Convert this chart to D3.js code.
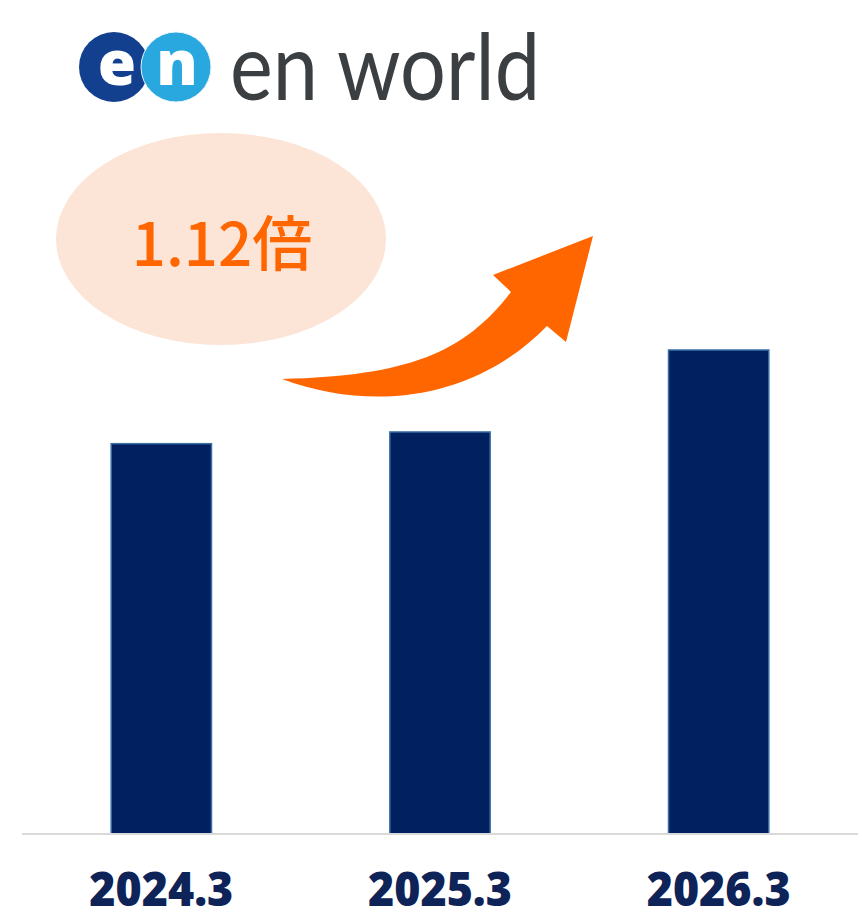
<!DOCTYPE html>
<html>
<head>
  <meta charset="utf-8">
  <title>en world 1.12倍</title>
  <script src="https://d3js.org/d3.v7.min.js"></script>
  <style>
    html, body { margin: 0; overflow: hidden; background: #fff; }
  </style>
</head>
<body>
<svg width="862" height="919"></svg>

<script>
// データ（目盛りは無いので高さ比から読み取り）
const categories = ["2024.3", "2025.3", "2026.3"];
const values = [100, 103, 124];
const ratioLabel = "1.12倍";

const width = 862, height = 919;
const svg = d3.select("svg");

const x = d3.scaleBand()
  .domain(categories)
  .range([22, 858])
  .paddingInner(0.64)
  .paddingOuter(0.32);

const y = d3.scaleLinear()
  .domain([0, d3.max(values)])
  .range([834, 350]);

// ロゴ
const logo = svg.append("g");
logo.append("circle").attr("cx", 114).attr("cy", 67).attr("r", 35).attr("fill", "#123f8e");
logo.append("circle").attr("cx", 176).attr("cy", 67).attr("r", 35)
  .attr("fill", "#29a8e0").attr("stroke", "#e8f4fb").attr("stroke-width", 1);
logo.selectAll("text.mark")
  .data([{ t: "e", x: 117 }, { t: "n", x: 177 }])
  .enter().append("text")
  .attr("class", "mark")
  .attr("x", d => d.x).attr("y", 85)
  .attr("text-anchor", "middle")
  .attr("font-family", "Open Sans, sans-serif")
  .attr("font-weight", 800)
  .attr("font-size", 62)
  .attr("fill", "#fff")
  .text(d => d.t);
logo.append("text")
  .attr("x", 230).attr("y", 100)
  .attr("font-family", "Lato, sans-serif")
  .attr("font-size", 94)
  .attr("fill", "#3c3f42")
  .attr("textLength", 310)
  .attr("lengthAdjust", "spacingAndGlyphs")
  .text("en world");

// 倍率の吹き出し
svg.append("ellipse")
  .attr("cx", 221).attr("cy", 239).attr("rx", 165).attr("ry", 106)
  .attr("fill", "#fce4d6");
svg.append("text")
  .attr("x", 222).attr("y", 266)
  .attr("text-anchor", "middle")
  .attr("font-family", "Noto Sans CJK JP, sans-serif")
  .attr("font-weight", 500)
  .attr("font-size", 60)
  .attr("fill", "#ff6600")
  .text(ratioLabel);

// 矢印
svg.append("path")
  .attr("d", "M282,379 C410,376 465,352 511,292 L493,275 L593,236 L566,342 L547,326 C480,395 380,415 282,379 Z")
  .attr("fill", "#ff6600");

// 棒
svg.append("g")
  .selectAll("rect")
  .data(values)
  .enter().append("rect")
  .attr("x", (d, i) => x(categories[i]))
  .attr("y", d => y(d))
  .attr("width", x.bandwidth())
  .attr("height", d => y(0) - y(d))
  .attr("fill", "#012060")
  .attr("stroke", "#3a6ea5")
  .attr("stroke-width", 1.5);

// 軸線
svg.append("line")
  .attr("x1", 22).attr("x2", 858)
  .attr("y1", y(0)).attr("y2", y(0))
  .attr("stroke", "#d9d9d9")
  .attr("stroke-width", 2);

// ラベル
const xAxis = svg.append("g")
  .attr("transform", `translate(0,${y(0)})`)
  .call(d3.axisBottom(x).tickSize(0).tickPadding(0));
xAxis.select(".domain").remove();
xAxis.selectAll("text")
  .attr("y", 72)
  .attr("dy", null)
  .attr("font-family", "Open Sans, sans-serif")
  .attr("font-weight", 800)
  .attr("font-size", 48)
  .attr("fill", "#0e2358")
  .attr("textLength", 144)
  .attr("lengthAdjust", "spacingAndGlyphs");
</script>
</body>
</html>
